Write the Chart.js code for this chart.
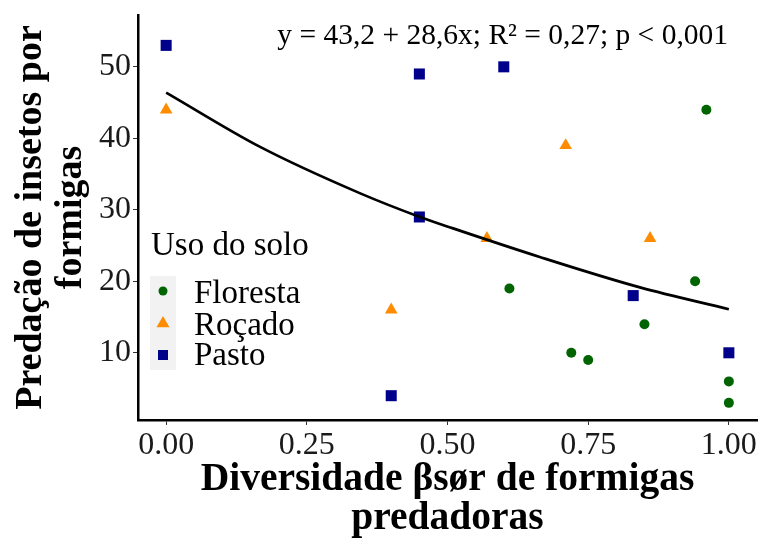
<!DOCTYPE html>
<html><head><meta charset="utf-8">
<script src="https://cdn.jsdelivr.net/npm/chart.js@4.4.0/dist/chart.umd.min.js"></script>
<style>html,body{margin:0;padding:0;background:#fff}#wrap{width:761px;height:541px}canvas{display:block}</style>
</head><body><div id="wrap"><canvas id="c" width="761" height="541"></canvas></div>
<script>
const groups = ['Floresta', 'Roçado', 'Pasto'];
const groupColors = ['#006400', '#FF8C00', '#00008B'];
const florestaX = [0.96, 0.61, 0.72, 0.75, 0.85, 0.94, 1.0, 1.0];
const florestaY = [44, 19, 10, 9, 14, 20, 6, 3];
const rocadoX = [0, 0.40, 0.57, 0.71, 0.86];
const rocadoY = [44, 16, 26, 39, 26];
const pastoX = [0, 0.45, 0.60, 0.45, 0.40, 0.83, 1.0];
const pastoY = [53, 49, 50, 29, 4, 18, 10];
const fitX = [0, 0.167, 0.345, 0.451, 0.51, 0.664, 0.842, 1.0];
const fitY = [46.4, 38.8, 32.3, 29.0, 27.4, 23.4, 19.15, 16.1];
const xTicks = [0, 0.25, 0.5, 0.75, 1];
const xTickLabels = ['0.00', '0.25', '0.50', '0.75', '1.00'];
const yTicks = [10, 20, 30, 40, 50];
const annotationText = 'y = 43,2 + 28,6x; R² = 0,27; p < 0,001';
const legendTitle = 'Uso do solo';
const xTitle = ['Diversidade βsør de formigas', 'predadoras'];
const yTitle = ['Predação de insetos por', 'formigas'];

const FONT = 'Liberation Serif';
Chart.defaults.font.family = FONT;

const toPts = (xs, ys) => xs.map((x, i) => ({x: x, y: ys[i]}));
const styles = ['circle', 'triangle', 'rect'];
const radii = [5, 7.3, 7.8];

const annotationPlugin = {
  id: 'annot',
  afterDatasetsDraw(chart) {
    const ctx = chart.ctx, xs = chart.scales.x, ys = chart.scales.y;
    ctx.save();
    ctx.font = '29.5px "' + FONT + '"';
    ctx.fillStyle = '#000';
    ctx.textAlign = 'center';
    ctx.textBaseline = 'alphabetic';
    ctx.fillText(annotationText, xs.getPixelForValue(0.598), ys.getPixelForValue(53.2));
    ctx.restore();
  }
};

const legendPlugin = {
  id: 'insideLegend',
  afterDraw(chart) {
    const ctx = chart.ctx;
    ctx.save();
    ctx.fillStyle = '#F2F2F2';
    ctx.fillRect(150, 276, 26, 94);
    ctx.font = '33px "' + FONT + '"';
    ctx.fillStyle = '#000';
    ctx.textAlign = 'left';
    ctx.textBaseline = 'alphabetic';
    ctx.fillText(legendTitle, 151, 255);
    const keyY = [291, 323.5, 355];
    const textY = [303, 335, 365];
    const keyR = [4.5, 7.5, 7.07];
    groups.forEach((g, i) => {
      ctx.fillStyle = groupColors[i];
      ctx.strokeStyle = groupColors[i];
      Chart.helpers.drawPoint(ctx, {pointStyle: styles[i], radius: keyR[i], rotation: 0, borderWidth: 0}, 163, keyY[i]);
      ctx.fillStyle = '#000';
      ctx.fillText(g, 194, textY[i]);
    });
    ctx.restore();
  }
};

new Chart(document.getElementById('c'), {
  type: 'scatter',
  data: {
    datasets: [
      {label: 'fit', data: toPts(fitX, fitY), showLine: true, pointRadius: 0, borderColor: '#000', borderWidth: 2.7, cubicInterpolationMode: 'monotone', fill: false},
      {label: groups[0], data: toPts(florestaX, florestaY), pointStyle: styles[0], pointRadius: radii[0], backgroundColor: groupColors[0], borderColor: groupColors[0], borderWidth: 0},
      {label: groups[1], data: toPts(rocadoX, rocadoY), pointStyle: styles[1], pointRadius: radii[1], backgroundColor: groupColors[1], borderColor: groupColors[1], borderWidth: 0},
      {label: groups[2], data: toPts(pastoX, pastoY), pointStyle: styles[2], pointRadius: radii[2], backgroundColor: groupColors[2], borderColor: groupColors[2], borderWidth: 0}
    ]
  },
  options: {
    responsive: false,
    devicePixelRatio: 1,
    animation: false,
    layout: {autoPadding: false, padding: {top: 15, right: 4, bottom: 0, left: 0}},
    plugins: {legend: {display: false}, tooltip: {enabled: false}},
    scales: {
      x: {
        type: 'linear', min: -0.05, max: 1.05,
        afterBuildTicks: s => { s.ticks = xTicks.map(v => ({value: v})); },
        afterFit: s => { s.height = 121; s.paddingLeft = 0; s.paddingRight = 0; },
        ticks: {
          callback: v => xTickLabels[xTicks.indexOf(v)],
          font: {family: FONT, size: 32}, color: '#1a1a1a', padding: 1, maxRotation: 0, autoSkip: false
        },
        grid: {display: true, drawOnChartArea: false, drawTicks: true, tickLength: 5, color: '#333', lineWidth: 1},
        border: {display: true, color: '#000', width: 2.5},
        title: {display: true, text: xTitle, color: '#000', font: {family: FONT, size: 39.5, weight: 'bold', lineHeight: 1.0}, padding: {top: 0, bottom: 2}}
      },
      y: {
        type: 'linear', min: 0.6, max: 57.25,
        afterBuildTicks: s => { s.ticks = yTicks.map(v => ({value: v})); },
        afterFit: s => { s.width = 138; s.paddingTop = 0; s.paddingBottom = 0; },
        ticks: {font: {family: FONT, size: 32}, color: '#1a1a1a', padding: 2},
        grid: {display: true, drawOnChartArea: false, drawTicks: true, tickLength: 5, color: '#333', lineWidth: 1},
        border: {display: true, color: '#000', width: 2.5},
        title: {display: true, text: yTitle, color: '#000', font: {family: FONT, size: 38, weight: 'bold', lineHeight: 1.05}, padding: {top: 11, bottom: 0}}
      }
    }
  },
  plugins: [annotationPlugin, legendPlugin]
});
</script>
</body></html>
